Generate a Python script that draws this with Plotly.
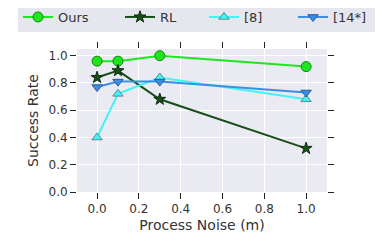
import plotly.graph_objects as go

noise = [0.0, 0.1, 0.3, 1.0]
ours = [0.96, 0.96, 1.0, 0.92]
rl = [0.84, 0.89, 0.68, 0.32]
ref8 = [0.40, 0.72, 0.84, 0.68]
ref14 = [0.77, 0.81, 0.81, 0.73]

x_ticks = [0.0, 0.2, 0.4, 0.6, 0.8, 1.0]
y_ticks = [0.0, 0.2, 0.4, 0.6, 0.8, 1.0]

FONT = "DejaVu Sans"
fig = go.Figure()

series = [
    ("Ours", ours, "#1ee61e", "circle", 10, "#0a8a0a", "legend"),
    ("RL", rl, "#174d17", "star", 9, "#0d2e0d", "legend2"),
    ("[8]", ref8, "#3ff5f5", "triangle-up", 9, "#5a8a8a", "legend3"),
    ("[14*]", ref14, "#3a8ee6", "triangle-down", 9, "#2a5a9a", "legend4"),
]
for name, ys, col, sym, sz, edge, lg in series:
    fig.add_trace(go.Scatter(
        x=noise, y=ys, name=name, mode="lines+markers", legend=lg,
        line=dict(color=col, width=2),
        marker=dict(symbol=sym, size=sz, color=col, line=dict(color=edge, width=1)),
    ))

axis_common = dict(
    ticks="outside", ticklen=6, tickwidth=1.3, tickcolor="#222", mirror="ticks",
    showline=False, showgrid=True, gridcolor="white", gridwidth=1.2, zeroline=False,
    tickfont=dict(family=FONT, size=12, color="#333"),
)

L, R, T, B, W, H = 69, 64, 41, 58, 383, 242
PW = W - L - R
PH = H - T - B


def legend_at(px_left, ew):
    return dict(orientation="h", x=(px_left - L) / PW, y=1 + (T + 6) / PH,
                xanchor="left", yanchor="top", bgcolor="#e6e6ee",
                font=dict(family=FONT, size=13, color="#333"),
                entrywidth=ew, entrywidthmode="pixels", itemwidth=30)


fig.update_layout(
    width=W, height=H,
    margin=dict(l=L, r=R, t=T, b=B, autoexpand=False),
    paper_bgcolor="white", plot_bgcolor="#eaeaf2",
    font=dict(family=FONT, color="#333"),
    xaxis=dict(range=[-0.096, 1.1], tickvals=x_ticks, ticktext=[f"{v:.1f}" for v in x_ticks],
               title=dict(text="Process Noise (m)", font=dict(family=FONT, size=14, color="#333"), standoff=4),
               **axis_common),
    yaxis=dict(range=[0.0, 1.049], tickvals=y_ticks, ticktext=[f"{v:.1f}" for v in y_ticks],
               title=dict(text="Success Rate", font=dict(family=FONT, size=14, color="#333"), standoff=6),
               **axis_common),
    legend=legend_at(10, 59),
    legend2=legend_at(112, 41),
    legend3=legend_at(196, 46),
    legend4=legend_at(285, 42),
    showlegend=True,
)

fig.write_html("out.html")
